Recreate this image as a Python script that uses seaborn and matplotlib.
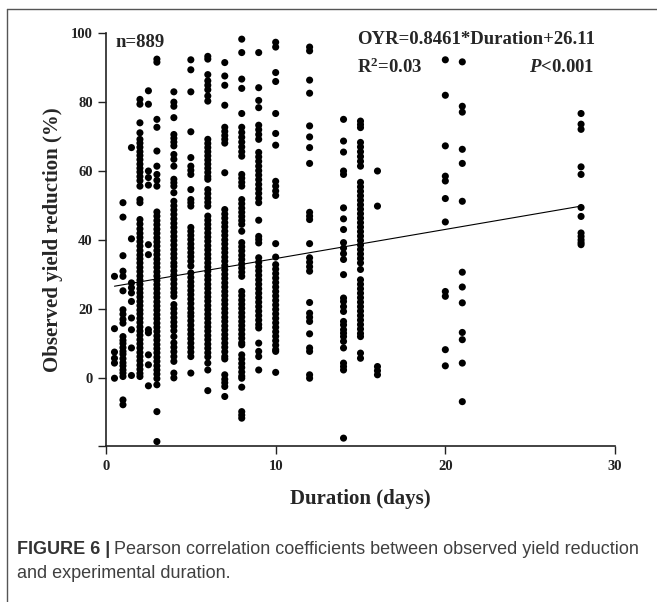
import matplotlib
matplotlib.use('Agg')
import matplotlib.pyplot as plt
import seaborn as sns
import pandas as pd
from matplotlib.lines import Line2D

# experimental durations (days) and observed yield reductions (%) read per column
durations = [0.5, 1, 1.5, 2, 2.5, 3, 4, 5, 6, 7, 8, 9, 10, 12, 14, 15, 16, 20, 21, 28]

oyr_d0_5 = [29.4, 14.2, 7.4, 5.6, 4.2, -0.2]
oyr_d1 = [50.8, 46.6, 35.4, 30.9, 29.4, 25.2, 19.7, 18.4, 16.9, 15.8, 11.9, 10.8, 9.9, 8.7,
          7.6, 6.8, 5.5, 4.3, 3.4, 2.2, 1.3, 0.3, -6.5, -7.9]
oyr_d1_5 = [66.8, 40.3, 27.5, 26.1, 24.6, 22.1, 17.3, 13.9, 8.6, 0.6]
oyr_d2 = [80.8, 79.4, 74.0, 71.1, 69.2, 68.1, 66.9, 65.6, 64.5, 63.3, 62.0, 60.8, 59.7, 58.4,
          57.2, 55.6, 51.7, 50.8, 45.9, 44.6, 43.2, 41.9, 40.7, 39.5, 38.2, 36.9, 35.6, 34.5,
          33.3, 32.0, 30.8, 29.5, 28.3, 27.1, 25.8, 24.6, 23.4, 22.1, 20.9, 19.6, 18.5, 17.2,
          16.0, 14.7, 13.5, 12.3, 11.0, 9.8, 8.6, 7.3, 6.1, 4.9, 3.6, 2.4, 1.2, 0.3]
oyr_d2_5 = [83.3, 79.4, 60.0, 58.1, 55.9, 38.6, 35.7, 13.9, 13.0, 6.6, 3.7, -2.4]
oyr_d3 = [92.5, 91.6, 75.0, 72.7, 65.8, 61.4, 59.0, 57.3, 55.6, 48.1, 46.9, 45.6, 44.4, 43.1,
          41.9, 40.6, 39.4, 38.2, 36.9, 35.7, 34.4, 33.2, 32.0, 30.7, 29.5, 28.2, 27.0, 25.8,
          24.5, 23.3, 22.0, 20.8, 19.6, 18.3, 17.1, 15.8, 14.6, 13.4, 12.1, 10.9, 9.6, 8.4,
          7.2, 5.9, 4.7, 3.4, 2.2, 1.0, -0.3, -2.1, -9.9, -18.6]
oyr_d4 = [83.0, 80.0, 78.8, 75.5, 70.6, 69.5, 68.4, 67.3, 64.8, 63.4, 61.4, 57.6, 56.6, 55.6,
          53.7, 51.2, 49.9, 48.7, 47.4, 46.1, 44.8, 43.6, 42.3, 41.0, 39.8, 38.5, 37.2, 35.9,
          34.7, 33.3, 32.3, 31.0, 29.8, 28.5, 27.2, 25.9, 24.7, 23.6, 21.2, 20.0, 18.7, 17.4,
          16.1, 14.9, 13.6, 11.9, 10.1, 8.8, 7.5, 6.1, 4.7, 1.3, -0.1]
oyr_d5 = [92.3, 89.4, 83.0, 71.4, 63.9, 61.4, 60.2, 59.0, 54.6, 51.7, 50.8, 49.8, 43.6, 42.5,
          41.3, 40.1, 38.8, 37.6, 36.3, 35.1, 33.8, 32.4, 30.4, 29.1, 27.8, 26.6, 25.3, 24.1,
          22.8, 21.5, 20.1, 18.8, 17.8, 16.5, 15.2, 13.9, 12.6, 11.3, 10.0, 8.7, 7.4, 6.1, 1.3]
oyr_d6 = [93.3, 92.5, 88.0, 86.2, 84.9, 83.6, 81.8, 80.3, 69.2, 68.0, 66.8, 65.6, 64.4, 63.2,
          62.0, 60.8, 59.6, 58.4, 57.6, 54.6, 53.4, 52.1, 50.9, 49.8, 46.9, 45.7, 44.5, 43.3,
          42.0, 40.8, 39.6, 38.3, 37.1, 35.8, 34.6, 33.3, 32.1, 30.9, 29.6, 28.4, 27.1, 25.9,
          24.6, 23.4, 22.2, 20.9, 19.7, 18.4, 17.2, 15.9, 14.7, 13.5, 12.2, 11.0, 9.7, 8.5,
          7.2, 6.0, 4.2, 2.2, -3.8]
oyr_d7 = [91.5, 87.6, 84.9, 79.1, 72.7, 71.5, 70.3, 69.2, 68.1, 59.5, 48.8, 47.5, 46.3, 45.0,
          43.8, 42.5, 41.3, 40.0, 38.8, 37.5, 36.3, 35.0, 33.8, 32.5, 31.3, 30.0, 28.8, 27.5,
          26.3, 25.0, 23.8, 22.5, 21.3, 20.0, 18.8, 17.5, 16.3, 15.0, 13.8, 12.5, 11.3, 10.0,
          8.8, 7.5, 6.1, 5.4, 0.8, -0.5, -1.5, -2.6, -5.5]
oyr_d8 = [98.3, 94.4, 86.7, 84.0, 76.7, 72.7, 71.2, 69.8, 68.4, 67.0, 65.6, 64.3, 59.0, 57.9,
          56.7, 55.6, 51.7, 50.5, 49.2, 48.0, 46.8, 45.6, 44.5, 42.5, 39.2, 38.0, 36.8, 35.5,
          34.3, 33.0, 31.8, 30.6, 29.4, 25.0, 23.8, 22.5, 21.3, 20.1, 18.8, 17.6, 16.3, 15.1,
          13.9, 12.6, 11.4, 10.1, 9.5, 6.6, 5.4, 4.1, 2.9, 1.6, 0.4, -0.2, -2.8, -9.9, -10.9,
          -11.8]
oyr_d9 = [94.4, 84.2, 80.5, 78.4, 73.3, 72.0, 70.6, 69.2, 65.4, 64.1, 62.8, 61.4, 60.1, 58.8,
          57.5, 56.1, 54.8, 53.5, 52.1, 50.8, 45.7, 41.0, 40.1, 39.1, 34.8, 33.5, 32.2, 31.0,
          29.7, 28.4, 27.1, 25.8, 24.5, 23.2, 21.9, 20.6, 19.3, 18.0, 16.7, 15.4, 14.4, 10.0,
          7.6, 6.1, 2.2]
oyr_d10 = [97.4, 96.0, 88.6, 86.0, 76.7, 70.9, 67.5, 57.0, 55.6, 54.2, 52.9, 38.9, 35.0, 32.8,
           31.5, 30.2, 28.9, 27.6, 26.3, 25.0, 23.7, 22.4, 21.1, 19.8, 18.5, 17.2, 15.9, 14.6,
           13.3, 12.0, 10.7, 9.4, 8.1, 7.6, 1.5]
oyr_d12 = [96.0, 94.9, 86.4, 82.6, 73.1, 69.9, 66.8, 62.2, 48.0, 46.9, 45.9, 38.9, 34.8, 33.5,
           32.2, 30.9, 21.8, 18.7, 17.5, 16.3, 12.7, 8.6, 7.6, 0.8, -0.2]
oyr_d14 = [75.0, 68.7, 65.5, 60.0, 59.0, 49.3, 46.1, 43.0, 39.2, 37.6, 36.0, 34.3, 29.9, 23.1,
           22.1, 20.6, 19.2, 16.3, 15.3, 13.9, 12.9, 11.9, 10.5, 8.6, 4.2, 3.2, 2.2, -17.6]
oyr_d15 = [74.5, 73.5, 72.6, 68.3, 67.0, 65.6, 64.2, 62.8, 61.4, 56.7, 55.4, 54.1, 52.8, 51.5,
           50.2, 48.9, 47.6, 46.3, 45.0, 43.7, 42.4, 41.1, 39.8, 38.5, 37.2, 35.9, 34.6, 33.3,
           31.4, 28.4, 27.1, 25.8, 24.5, 23.2, 21.9, 20.6, 19.3, 18.0, 16.7, 15.4, 14.1, 12.8,
           11.9, 7.1, 5.6]
oyr_d16 = [60.0, 49.8, 3.2, 2.0, 0.8]
oyr_d20 = [92.3, 82.0, 67.3, 58.5, 57.1, 52.0, 45.2, 25.0, 23.6, 8.1, 3.4]
oyr_d21 = [91.7, 78.8, 77.1, 66.3, 62.2, 51.2, 30.6, 26.3, 21.7, 13.1, 11.0, 4.2, -7.0]
oyr_d28 = [76.7, 73.6, 72.1, 61.2, 59.0, 49.4, 46.8, 42.0, 41.0, 40.0, 39.2, 38.6]

reductions = [oyr_d0_5, oyr_d1, oyr_d1_5, oyr_d2, oyr_d2_5, oyr_d3, oyr_d4, oyr_d5, oyr_d6,
              oyr_d7, oyr_d8, oyr_d9, oyr_d10, oyr_d12, oyr_d14, oyr_d15, oyr_d16, oyr_d20,
              oyr_d21, oyr_d28]

# fitted regression printed on the chart
slope, intercept = 0.8461, 26.11

rows = [(d, v) for d, vals in zip(durations, reductions) for v in vals]
df = pd.DataFrame(rows, columns=['duration', 'oyr'])

sns.set_style('ticks')
plt.rcParams['font.family'] = ['Liberation Serif', 'DejaVu Serif']
plt.rcParams['font.weight'] = 'bold'
plt.rcParams['mathtext.fontset'] = 'custom'
plt.rcParams['mathtext.rm'] = 'Liberation Serif:bold'
plt.rcParams['mathtext.it'] = 'Liberation Serif:italic:bold'

fig = plt.figure(figsize=(6.57, 6.02), dpi=100)
ax = fig.add_axes([106 / 657, 1 - 446.4 / 602, 509 / 657, 413.1 / 602])

sns.scatterplot(data=df, x='duration', y='oyr', color='black', s=26,
                edgecolor='none', linewidth=0, ax=ax)

# regression line across the observed range
line_x = [min(durations), max(durations)]
ax.plot(line_x, [slope * x + intercept for x in line_x], color='black', lw=0.8)

ax.set_xlim(0, 30)
ax.set_ylim(-20, 100)
ax.set_xticks([0, 10, 20, 30])
ax.set_yticks(list(range(-20, 101, 20)))
ax.set_yticklabels([''] + [str(v) for v in range(0, 101, 20)])

sns.despine(ax=ax)
for side in ['left', 'bottom']:
    ax.spines[side].set_linewidth(1.2)
    ax.spines[side].set_color('#222222')
ax.tick_params(direction='out', length=5.5, width=1, colors='#222222', labelsize=10.5, pad=4)
for lab in ax.get_xticklabels() + ax.get_yticklabels():
    lab.set_fontweight('bold')

ax.set_xlabel('Duration (days)', fontsize=15, fontweight='bold', labelpad=12)
ax.set_ylabel('Observed yield reduction (%)', fontsize=15, fontweight='bold', labelpad=6)

# annotations
ax.text(0.55, 97.4, 'n=889', fontsize=13.5, fontweight='bold', va='center')
ax.text(14.78, 98.1, 'OYR=0.8461*Duration+26.11', fontsize=13.5, fontweight='bold', va='center')
ax.text(14.78, 90.2, r'R$^2$=0.03', fontsize=13.5, fontweight='bold', va='center')
ax.text(28.8, 90.2, r'$P$<0.001', fontsize=13.5, fontweight='bold', va='center', ha='right')

# page frame of the figure panel
fx = 7.3 / 657
fy = 1 - 9.3 / 602
fig.add_artist(Line2D([fx, fx], [0, fy], transform=fig.transFigure, color='#555555', lw=1))
fig.add_artist(Line2D([fx, 1], [fy, fy], transform=fig.transFigure, color='#555555', lw=1))

# caption
head = fig.text(17 / 657, 1 - 550 / 602, 'FIGURE 6 |', family='Liberation Sans',
                fontweight='bold', fontsize=13, color='#333333', va='center')
fig.canvas.draw()
bb = head.get_window_extent()
fig.text((bb.x1 + 4) / 657, 1 - 550 / 602,
         'Pearson correlation coefficients between observed yield reduction',
         family='Liberation Sans', fontweight='normal', fontsize=13, color='#404040',
         va='center')
fig.text(17 / 657, 1 - 573 / 602, 'and experimental duration.', family='Liberation Sans',
         fontweight='normal', fontsize=13, color='#404040', va='center')

fig.savefig('out.png', dpi=100)
